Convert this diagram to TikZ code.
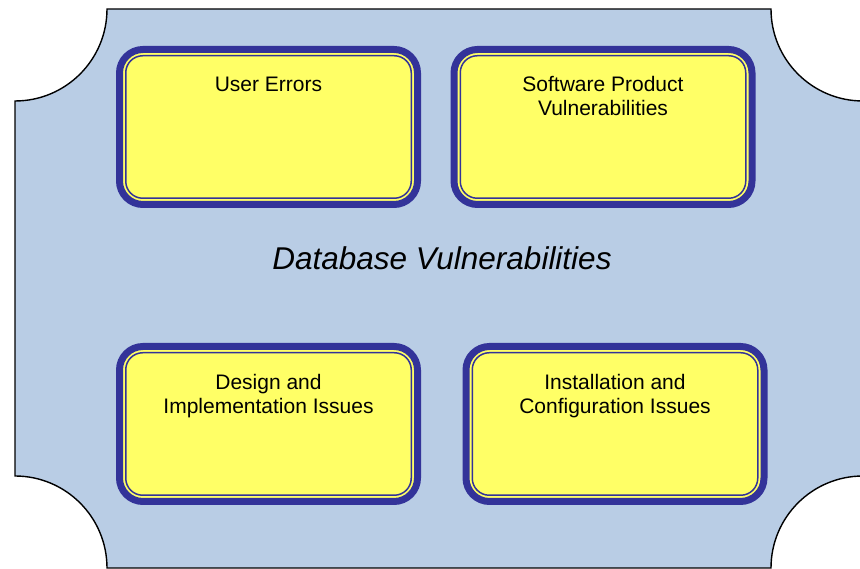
\documentclass[tikz,border=0pt]{standalone}
\usepackage{fontspec}
\setmainfont{Liberation Sans}
\definecolor{plaque}{HTML}{B9CDE5}
\definecolor{panel}{HTML}{FFFF66}
\definecolor{rim}{HTML}{333399}
\begin{document}
\begin{tikzpicture}[x=1pt,y=1pt,
  panelbox/.style={draw=rim, line width=7pt, fill=panel, rounded corners=23.5pt,
    minimum width=298pt, minimum height=155pt, outer sep=0pt, inner sep=0pt},
  rimline/.style={draw=rim, line width=1.5pt, rounded corners=17pt},
  lbl/.style={anchor=base, inner sep=0pt, font=\fontsize{21}{23.5}\selectfont},
  heading/.style={anchor=base, inner sep=0pt, font=\fontsize{31.5}{36}\selectfont\itshape}]
\useasboundingbox (0,0) rectangle (860,569);

% plaque with concave quarter-circle corners
\filldraw[fill=plaque, draw=black, line width=1.4pt]
  (107,560) -- (771,560)
  arc[start angle=180, end angle=270, radius=92] -- (863,93)
  arc[start angle=90, end angle=180, radius=92] -- (107,1)
  arc[start angle=0, end angle=90, radius=92] -- (15,468)
  arc[start angle=270, end angle=360, radius=92] -- cycle;

% four category panels
\node[panelbox] (ue) at (268.5,442) {};
\node[panelbox] (sp) at (603,442) {};
\node[panelbox] (di) at (268.5,145) {};
\node[panelbox] (ic) at (615,145) {};
\foreach \p in {ue,sp,di,ic}
  \draw[rimline] ([shift={(6.25,-6.25)}]\p.north west) rectangle ([shift={(-6.25,6.25)}]\p.south east);

% panel labels
\node[lbl] (uet) at (268.5,477) {\begin{tabular}[t]{@{}c@{}}User Errors\end{tabular}};
\node[lbl] (spt) at (603,477) {\begin{tabular}[t]{@{}c@{}}Software Product\\Vulnerabilities\end{tabular}};
\node[lbl] (dit) at (268.5,179) {\begin{tabular}[t]{@{}c@{}}Design and\\Implementation Issues\end{tabular}};
\node[lbl] (ict) at (615,179) {\begin{tabular}[t]{@{}c@{}}Installation and\\Configuration Issues\end{tabular}};

% central heading
\node[heading] (dbv) at (442,299) {Database Vulnerabilities};
\end{tikzpicture}
\end{document}
